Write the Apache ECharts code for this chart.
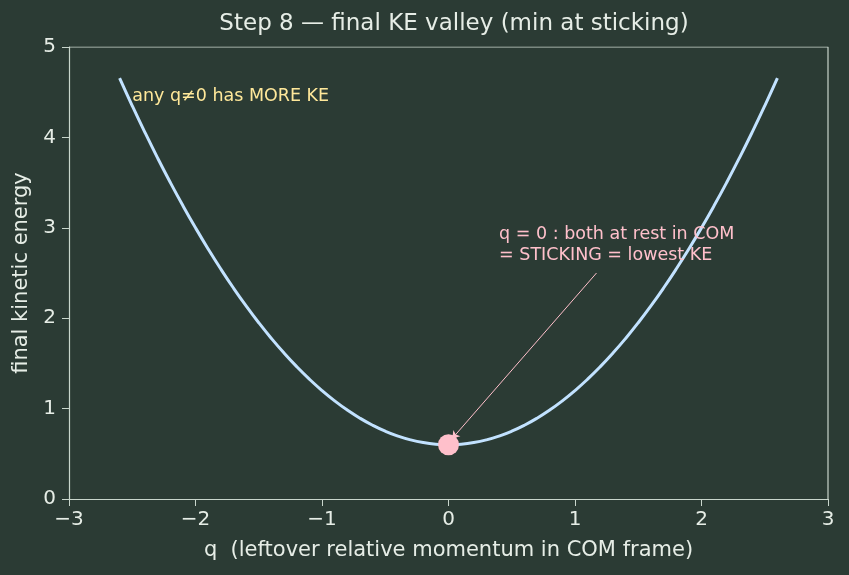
<!doctype html>
<html>
<head>
<meta charset="utf-8">
<title>final KE valley</title>
<script src="https://cdn.jsdelivr.net/npm/echarts@6/dist/echarts.min.js"></script>
<style>
  html, body { margin: 0; padding: 0; background: #2b3b34; }
  #main { width: 849px; height: 575px; }
</style>
</head>
<body>
<div id="main"></div>
<script>
// momentum q and final KE
var qValues = [-2.6, -2.5, -2.4, -2.3, -2.2, -2.1, -2.0, -1.9, -1.8, -1.7, -1.6, -1.5, -1.4, -1.3,
               -1.2, -1.1, -1.0, -0.9, -0.8, -0.7, -0.6, -0.5, -0.4, -0.3, -0.2, -0.1, 0,
               0.1, 0.2, 0.3, 0.4, 0.5, 0.6, 0.7, 0.8, 0.9, 1.0, 1.1, 1.2, 1.3,
               1.4, 1.5, 1.6, 1.7, 1.8, 1.9, 2.0, 2.1, 2.2, 2.3, 2.4, 2.5, 2.6];
var keValues = [4.656, 4.35, 4.056, 3.774, 3.504, 3.246, 3.00, 2.766, 2.544, 2.334, 2.136, 1.95, 1.776, 1.614,
                1.464, 1.326, 1.20, 1.086, 0.984, 0.894, 0.816, 0.75, 0.696, 0.654, 0.624, 0.606, 0.60,
                0.606, 0.624, 0.654, 0.696, 0.75, 0.816, 0.894, 0.984, 1.086, 1.20, 1.326, 1.464, 1.614,
                1.776, 1.95, 2.136, 2.334, 2.544, 2.766, 3.00, 3.246, 3.504, 3.774, 4.056, 4.35, 4.656];
var minPoint = [0, 0.6];
var xTicks = [-3, -2, -1, 0, 1, 2, 3];
var yTicks = [0, 1, 2, 3, 4, 5];

var axisCol = '#c9d6cc';
var textCol = '#e6ede6';
var pink = '#ffc0cb';

var curve = qValues.map(function (q, i) { return [q, keValues[i]]; });

var font = 'DejaVu Sans';

echarts.init(document.getElementById('main')).setOption({
    backgroundColor: '#2b3b34',
    animation: false,
    title: {
        text: 'Step 8 \u2014 final KE valley (min at sticking)',
        left: 449,
        textAlign: 'center',
        top: 8,
        textStyle: { color: textCol, fontSize: 23, fontWeight: 'normal', fontFamily: font }
    },
    grid: { left: 69, right: 21, top: 47, bottom: 76 },
    xAxis: {
        type: 'value',
        min: xTicks[0], max: xTicks[xTicks.length - 1], interval: 1,
        name: 'q  (leftover relative momentum in COM frame)',
        nameLocation: 'middle',
        nameGap: 41,
        nameTextStyle: { color: textCol, fontSize: 21, fontFamily: font },
        axisLine: { show: true, onZero: false, lineStyle: { color: axisCol, width: 1.2 } },
        axisTick: { show: true, length: 7, lineStyle: { color: axisCol } },
        axisLabel: {
            color: textCol, fontSize: 20, fontFamily: font, margin: 11,
            formatter: function (v) { return v < 0 ? '\u2212' + Math.abs(v) : String(v); }
        },
        splitLine: { show: false }
    },
    yAxis: {
        type: 'value',
        min: yTicks[0], max: yTicks[yTicks.length - 1], interval: 1,
        name: 'final kinetic energy',
        nameLocation: 'middle',
        nameGap: 33,
        nameTextStyle: { color: textCol, fontSize: 21, fontFamily: font },
        axisLine: { show: true, onZero: false, lineStyle: { color: axisCol, width: 1.2 } },
        axisTick: { show: true, length: 7, lineStyle: { color: axisCol } },
        axisLabel: { color: textCol, fontSize: 20, fontFamily: font, margin: 13 },
        splitLine: { show: false }
    },
    series: [
        {
            // top and right frame lines
            type: 'line',
            data: [[-3, 5], [3, 5], [3, 0]],
            symbol: 'none',
            silent: true,
            lineStyle: { color: axisCol, width: 1.2 },
            z: 1
        },
        {
            name: 'KE',
            type: 'line',
            data: curve,
            smooth: 0.5,
            symbol: 'none',
            lineStyle: { color: '#c2e2ff', width: 3 },
            z: 3
        },
        {
            type: 'scatter',
            data: [minPoint],
            symbolSize: 21,
            itemStyle: { color: pink, opacity: 1 },
            emphasis: { disabled: true },
            z: 5,
            markLine: {
                silent: true,
                symbol: ['none', 'arrow'],
                symbolSize: 7,
                lineStyle: { color: pink, width: 1, type: 'solid', opacity: 1 },
                label: { show: false },
                data: [[{ coord: [1.17, 2.5] }, { coord: [0.03, 0.67] }]]
            },
            markPoint: {
                silent: true,
                symbol: 'circle',
                symbolSize: 0,
                data: [
                    {
                        coord: [0.4, 2.58],
                        label: {
                            show: true, position: 'inside', align: 'left', verticalAlign: 'bottom',
                            color: pink, fontSize: 17.5, fontFamily: font, lineHeight: 21,
                            formatter: 'q = 0 : both at rest in COM\n= STICKING = lowest KE'
                        }
                    },
                    {
                        coord: [-2.5, 4.45],
                        label: {
                            show: true, position: 'inside', align: 'left', verticalAlign: 'middle',
                            color: '#ffe89a', fontSize: 17.5, fontFamily: font,
                            formatter: 'any q\u22600 has MORE KE'
                        }
                    }
                ]
            }
        }
    ]
});
</script>
</body>
</html>
